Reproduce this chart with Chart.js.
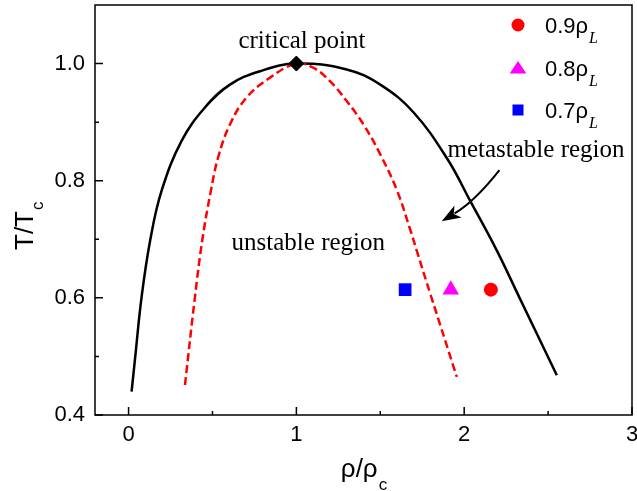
<!DOCTYPE html>
<html>
<head>
<meta charset="utf-8">
<script src="https://cdn.jsdelivr.net/npm/chart.js@4.4.0/dist/chart.umd.min.js"></script>
<style>
  html, body { margin: 0; padding: 0; background: #fff; }
</style>
</head>
<body>
<canvas id="myChart" width="637" height="491"></canvas>
<script>
// coexistence curve (black solid), x = rho/rho_c, y = T/T_c
var binodalX = [0.018, 0.04, 0.077, 0.13, 0.197, 0.316, 0.455, 0.604, 0.783, 1.0, 1.3, 1.5, 1.7, 1.9, 2.035, 2.194, 2.33, 2.552];
var binodalY = [0.44, 0.50, 0.60, 0.70, 0.783, 0.868, 0.925, 0.964, 0.987, 1.0, 0.99, 0.964, 0.916, 0.837, 0.766, 0.681, 0.60, 0.468];

// spinodal (red dashed)
var spinodalX = [0.336, 0.395, 0.44, 0.49, 0.534, 0.604, 0.703, 0.843, 1.0, 1.1, 1.2, 1.3, 1.4, 1.5, 1.6, 1.68, 1.72, 1.80, 1.956];
var spinodalY = [0.451, 0.60, 0.70, 0.782, 0.84, 0.896, 0.942, 0.976, 1.0, 0.993, 0.97, 0.936, 0.896, 0.845, 0.783, 0.715, 0.678, 0.605, 0.465];

// critical point
var critX = [1.0];
var critY = [1.0];

// initial states
var stateLabels = ['0.9', '0.8', '0.7'];
var stateX = [2.159, 1.92, 1.648];
var stateY = [0.614, 0.614, 0.614];

// ticks
var xTicks = [0, 1, 2, 3];
var xMinorTicks = [0.5, 1.5, 2.5];
var yTicks = [0.4, 0.6, 0.8, 1.0];
var yMinorTicks = [0.5, 0.7, 0.9];

// text notes: [text, x, y] in data units
var notes = [
    ['critical point', 1.033, 1.027],
    ['unstable region', 1.071, 0.682],
    ['metastable region', 2.428, 0.84]
];
var arrowFrom = [2.21, 0.818];
var arrowTo = [1.866, 0.731];

function toPoints(xs, ys) {
    var pts = [];
    for (var i = 0; i < xs.length; i++) {
        pts.push({ x: xs[i], y: ys[i] });
    }
    return pts;
}

var stateColors = ['#ff0000', '#ff00ff', '#0000ff'];
var stateShapes = ['circle', 'triangle', 'rect'];
var stateSizes = [7, 9.5, 9];

var datasets = [
    {
        label: 'critical point',
        data: toPoints(critX, critY),
        showLine: false,
        pointStyle: 'rectRot',
        pointRadius: 7.5,
        backgroundColor: '#000',
        borderColor: '#000',
        order: 0
    },
    {
        label: 'binodal',
        data: toPoints(binodalX, binodalY),
        showLine: true,
        borderColor: '#000',
        borderWidth: 2.5,
        pointRadius: 0,
        tension: 0.4,
        order: 2
    },
    {
        label: 'spinodal',
        data: toPoints(spinodalX, spinodalY),
        showLine: true,
        borderColor: '#ff0000',
        borderWidth: 2.5,
        borderDash: [8, 4],
        pointRadius: 0,
        tension: 0.4,
        order: 1
    }
];
for (var i = 0; i < stateX.length; i++) {
    datasets.push({
        label: stateLabels[i],
        data: [{ x: stateX[i], y: stateY[i] }],
        showLine: false,
        pointStyle: stateShapes[i],
        pointRadius: stateSizes[i],
        backgroundColor: stateColors[i],
        borderColor: stateColors[i],
        borderWidth: 0,
        order: 0
    });
}

var decorations = {
    id: 'decorations',
    afterDatasetsDraw: function (chart) {
        var c = chart.ctx;
        var a = chart.chartArea;
        var xs = chart.scales.x, ys = chart.scales.y;
        c.save();
        c.strokeStyle = '#000';
        c.lineWidth = 1.5;
        c.strokeRect(a.left, a.top, a.right - a.left, a.bottom - a.top);
        c.beginPath();
        xTicks.forEach(function (v) {
            var px = xs.getPixelForValue(v);
            c.moveTo(px, a.bottom); c.lineTo(px, a.bottom - 8);
        });
        xMinorTicks.forEach(function (v) {
            var px = xs.getPixelForValue(v);
            c.moveTo(px, a.bottom); c.lineTo(px, a.bottom - 4);
        });
        yTicks.forEach(function (v) {
            var py = ys.getPixelForValue(v);
            c.moveTo(a.left, py); c.lineTo(a.left + 8, py);
        });
        yMinorTicks.forEach(function (v) {
            var py = ys.getPixelForValue(v);
            c.moveTo(a.left, py); c.lineTo(a.left + 4, py);
        });
        c.stroke();
        c.restore();
    },
    afterDraw: function (chart) {
        var c = chart.ctx;
        var a = chart.chartArea;
        var xs = chart.scales.x, ys = chart.scales.y;
        c.save();
        c.fillStyle = '#000';

        // notes
        c.font = '25px "Liberation Serif"';
        c.textAlign = 'center';
        c.textBaseline = 'alphabetic';
        notes.forEach(function (n) {
            c.fillText(n[0], xs.getPixelForValue(n[1]), ys.getPixelForValue(n[2]));
        });

        // arrow
        var x0 = xs.getPixelForValue(arrowFrom[0]), y0 = ys.getPixelForValue(arrowFrom[1]);
        var x1 = xs.getPixelForValue(arrowTo[0]), y1 = ys.getPixelForValue(arrowTo[1]);
        var cx = (x0 + x1) / 2 + 4, cy = (y0 + y1) / 2 + 6;
        var ang = Math.atan2(y1 - cy, x1 - cx);
        var headLen = 19, headW = 7;
        var bx = x1 - Math.cos(ang) * headLen, by = y1 - Math.sin(ang) * headLen;
        c.strokeStyle = '#000';
        c.lineWidth = 2;
        c.beginPath();
        c.moveTo(x0, y0);
        c.quadraticCurveTo(cx, cy, bx + Math.cos(ang) * 4, by + Math.sin(ang) * 4);
        c.stroke();
        c.beginPath();
        c.moveTo(x1, y1);
        c.lineTo(bx - Math.sin(ang) * headW, by + Math.cos(ang) * headW);
        c.lineTo(bx + Math.cos(ang) * 5, by + Math.sin(ang) * 5);
        c.lineTo(bx + Math.sin(ang) * headW, by - Math.cos(ang) * headW);
        c.closePath();
        c.fill();

        // legend
        var lx = 518, ly = 25, step = 42.5;
        for (var i = 0; i < stateLabels.length; i++) {
            var yy = ly + i * step;
            c.fillStyle = stateColors[i];
            c.beginPath();
            if (stateShapes[i] === 'circle') {
                c.arc(lx, yy, 6.5, 0, Math.PI * 2);
            } else if (stateShapes[i] === 'triangle') {
                c.moveTo(lx, yy - 6.5);
                c.lineTo(lx + 8.3, yy + 6);
                c.lineTo(lx - 8.3, yy + 6);
                c.closePath();
            } else {
                c.rect(lx - 5.5, yy - 5.5, 11, 11);
            }
            c.fill();
            c.fillStyle = '#000';
            c.textAlign = 'left';
            c.font = '22px "Liberation Sans"';
            var t = stateLabels[i] + 'ρ';
            c.fillText(t, 545, yy + 8);
            var w = c.measureText(t).width;
            c.font = 'italic 16px "Liberation Serif"';
            c.fillText('L', 545 + w + 1, yy + 18);
        }

        // axis titles
        c.fillStyle = '#000';
        c.textAlign = 'left';
        c.font = '26px "Liberation Sans"';
        var main = 'ρ/ρ';
        var mw = c.measureText(main).width;
        c.font = '17px "Liberation Sans"';
        var sw = c.measureText('c').width;
        var startX = (a.left + a.right) / 2 - (mw + sw) / 2;
        c.font = '26px "Liberation Sans"';
        c.fillText(main, startX, 477);
        c.font = '17px "Liberation Sans"';
        c.fillText('c', startX + mw + 1, 490);

        c.save();
        c.translate(33, 250);
        c.rotate(-Math.PI / 2);
        c.font = '26px "Liberation Sans"';
        var tw = c.measureText('T/T').width;
        c.fillText('T/T', 0, 0);
        c.font = '17px "Liberation Sans"';
        c.fillText('c', tw + 1, 10);
        c.restore();

        c.restore();
    }
};

var chart = new Chart(document.getElementById('myChart'), {
    type: 'scatter',
    data: { datasets: datasets },
    options: {
        responsive: false,
        animation: false,
        devicePixelRatio: 1,
        layout: { padding: 0, autoPadding: false },
        plugins: {
            legend: { display: false },
            tooltip: { enabled: false }
        },
        scales: {
            x: {
                type: 'linear',
                min: -0.2,
                max: 3,
                grid: { display: false, drawTicks: false },
                border: { display: false },
                ticks: {
                    color: '#000',
                    padding: 7,
                    font: { family: 'Liberation Sans', size: 22 },
                    callback: function (v) { return String(v); }
                },
                afterBuildTicks: function (s) { s.ticks = xTicks.map(function (v) { return { value: v }; }); },
                afterFit: function (s) {
                    s.height = 76;
                    s.paddingLeft = 0; s.paddingRight = 5;
                    s.paddingTop = 0; s.paddingBottom = 0;
                }
            },
            y: {
                type: 'linear',
                min: 0.4,
                max: 1.1,
                grid: { display: false, drawTicks: false },
                border: { display: false },
                ticks: {
                    color: '#000',
                    padding: 10,
                    font: { family: 'Liberation Sans', size: 22 },
                    callback: function (v) { return v.toFixed(1); }
                },
                afterBuildTicks: function (s) { s.ticks = yTicks.map(function (v) { return { value: v }; }); },
                afterFit: function (s) {
                    s.width = 95;
                    s.paddingLeft = 0; s.paddingRight = 0;
                    s.paddingTop = 5; s.paddingBottom = 0;
                }
            }
        }
    },
    plugins: [decorations]
});
</script>
</body>
</html>
